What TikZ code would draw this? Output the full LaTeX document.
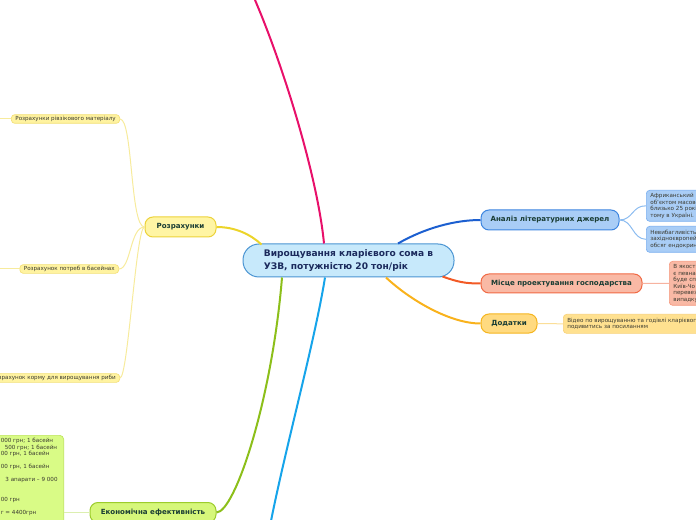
\documentclass[tikz,border=0pt]{standalone}
\usepackage{fontspec}
\setmainfont{DejaVu Sans}
\usetikzlibrary{calc}
\definecolor{cFill}{HTML}{C7E9FB}
\definecolor{cDraw}{HTML}{4A94D2}
\definecolor{cText}{HTML}{1B2A5C}
\definecolor{sText}{HTML}{1A3D34}
\definecolor{lText}{HTML}{3A3A30}
\definecolor{pinkL}{HTML}{E8106A}
\definecolor{skyL}{HTML}{16A4EA}
\definecolor{greenL}{HTML}{8CBF1A}
\definecolor{yelL}{HTML}{ECD42A}
\definecolor{blueL}{HTML}{1C5FD0}
\definecolor{oraL}{HTML}{F25A26}
\definecolor{ambL}{HTML}{F9B21C}
\definecolor{yFill}{HTML}{FFF5A4}
\definecolor{yDraw}{HTML}{ECD23A}
\definecolor{yLeafFill}{HTML}{FFF3A0}
\definecolor{yLeafDraw}{HTML}{F3DF78}
\definecolor{yThin}{HTML}{F7EB9C}
\definecolor{bFill}{HTML}{A9CDF6}
\definecolor{bDraw}{HTML}{3D85E0}
\definecolor{bLeafDraw}{HTML}{7CB0F0}
\definecolor{bThin}{HTML}{8CBCF0}
\definecolor{rFill}{HTML}{F9B9A5}
\definecolor{rDraw}{HTML}{F06A45}
\definecolor{rLeafDraw}{HTML}{F59A80}
\definecolor{rThin}{HTML}{F7B3A0}
\definecolor{aFill}{HTML}{FFDA80}
\definecolor{aDraw}{HTML}{F5B51F}
\definecolor{aLeafFill}{HTML}{FFE190}
\definecolor{aLeafDraw}{HTML}{F8D27A}
\definecolor{aThin}{HTML}{FBDE98}
\definecolor{gFill}{HTML}{D6F77A}
\definecolor{gDraw}{HTML}{9CCC2C}
\definecolor{gLeafFill}{HTML}{D9FB86}
\definecolor{gLeafDraw}{HTML}{BDE35A}
\definecolor{gThin}{HTML}{DCEFB0}
\begin{document}
\begin{tikzpicture}[x=0.75pt,y=-0.75pt,
  centralbox/.style={draw=cDraw, fill=cFill, line width=0.75pt, rounded corners=12pt,
    minimum width=158.25pt, minimum height=24.75pt, align=left, text=cText,
    font=\bfseries\fontsize{6.8}{9.75}\selectfont},
  subbox/.style={line width=0.75pt, rounded corners=6pt, minimum height=15pt, text=sText,
    inner xsep=2pt, inner ysep=1pt, font=\bfseries\fontsize{5.3}{6.5}\selectfont},
  leafbox/.style={line width=0.5pt, rounded corners=2.5pt, text=lText, inner xsep=3pt, inner ysep=1.2pt,
    font=\fontsize{4.2}{4.9}\selectfont, align=left},
  mainline/.style={line width=1.5pt},
  thinline/.style={line width=0.75pt}
]
\useasboundingbox (0,0) rectangle (696,520);
\clip (0,0) rectangle (696,520);

% central
\node[centralbox] (c) at (348.5,260.5) {Вирощування кларієвого сома в\\УЗВ, потужністю 20 тон/рік};

% free ends
\coordinate (pinkEnd) at (255,0);
\coordinate (skyEnd) at (271,521);

% main branch nodes
\node[subbox, fill=yFill, draw=yDraw, minimum width=53.25pt] (roz) at (180.5,227) {Розрахунки};
\node[subbox, fill=bFill, draw=bDraw, minimum width=103.5pt] (an) at (550,220) {Аналіз літературних джерел};
\node[subbox, fill=rFill, draw=rDraw, minimum width=120.75pt, minimum height=14.25pt] (mi) at (561.5,283.5) {Місце проектування господарства};
\node[subbox, fill=aFill, draw=aDraw, minimum width=42pt, minimum height=14.25pt] (dod) at (509,323.5) {Додатки};
\node[subbox, fill=gFill, draw=gDraw, minimum width=94.5pt] (eko) at (153,512.5) {Економічна ефективність};

% main connectors
\draw[mainline, pinkL] (pinkEnd) .. controls (285,70) and (318,180) .. ($(c.north)+(-24.5,0)$);
\draw[mainline, skyL] ($(c.south)+(-23.5,0)$) .. controls (315,340) and (285,450) .. (skyEnd);
\draw[mainline, greenL] ($(c.south)+(-66.5,0)$) .. controls (272,400) and (235,512) .. (eko.east);
\draw[mainline, yelL] ($(c.north west)+(19,1)$) .. controls (250,234) and (235,227) .. (roz.east);
\draw[mainline, blueL] ($(c.north)+(49.5,0)$) .. controls (425,228) and (455,220) .. (an.west);
\draw[mainline, oraL] ($(c.south east)+(-12,-1)$) .. controls (458,282) and (465,283.5) .. (mi.west);
\draw[mainline, ambL] ($(c.south)+(37.5,0)$) .. controls (410,300) and (450,323.5) .. (dod.west);

% Розрахунки leaves
\node[leafbox, fill=yLeafFill, draw=yLeafDraw, anchor=east] (r1) at (120,119) {Розрахунки рівзікового матеріалу};
\node[leafbox, fill=yLeafFill, draw=yLeafDraw, anchor=east] (r2) at (119,269) {Розрахунок потреб в басейнах};
\node[leafbox, fill=yLeafFill, draw=yLeafDraw, anchor=east] (r3) at (120,378) {Розрахунок корму для вирощування риби};
\coordinate (r1L) at (0,119);
\coordinate (r2L) at (0,269);
\draw[thinline, yThin] (roz.west) .. controls (130,227) and (133,119) .. (r1.east);
\draw[thinline, yThin] (roz.west) .. controls (130,227) and (131,269) .. (r2.east);
\draw[thinline, yThin] (roz.west) .. controls (136,227) and (128,378) .. (r3.east);
\draw[thinline, yThin] (r1.west) -- (r1L);
\draw[thinline, yThin] (r2.west) -- (r2L);

% Аналіз leaves
\node[leafbox, fill=bFill, draw=bLeafDraw, anchor=north west, text width=60pt, minimum height=23.25pt] (an1) at (646,190)
  {Африканський к\\об'єктом масово\\близько 25 рокі\\тому в Україні.};
\node[leafbox, fill=bFill, draw=bLeafDraw, anchor=north west, text width=60pt, minimum height=19.5pt] (an2) at (646,226)
  {Невибагливість\\західноєвропейсь\\обсяг ендокрин};
\draw[thinline, bThin] (an.east) .. controls (633,220) and (632,205.5) .. (an1.west);
\draw[thinline, bThin] (an.east) .. controls (633,220) and (632,239) .. (an2.west);

% Місце leaf
\node[leafbox, fill=rFill, draw=rLeafDraw, anchor=north west, text width=40pt, minimum height=33pt] (mc) at (669,261)
  {В якості\\є певна\\буде спр\\Київ-Чо\\перевез\\випадку};
\draw[thinline, rThin] (mi.east) -- (mc.west);

% Додатки leaf
\node[leafbox, fill=aLeafFill, draw=aLeafDraw, anchor=north west, text width=120pt, minimum height=14.25pt] (dc) at (563,314)
  {Відео по вирощуванню та годівлі кларієвого\\подивитись за посиланням};
\draw[thinline, aThin] (dod.west -| dod.east) -- (dc.west);

% Економічна leaf
\node[draw=gLeafDraw, fill=gLeafFill, line width=0.5pt, rounded corners=3pt, anchor=north east,
  minimum width=75pt, minimum height=80pt] (ec) at (64,435) {};
\node[anchor=north west, inner sep=0pt, align=left, text=lText, font=\fontsize{4.2}{4.9}\selectfont] (ect) at (0.5,438)
  {000 грн; 1 басейн\\\hspace{3pt}500 грн; 1 басейн\\00 грн, 1 басейн\\[4.9pt]00 грн, 1 басейн\\[4.9pt]\hspace{3.5pt}3 апарати – 9 000\\[9.8pt]00 грн\\[4.9pt]г = 4400грн};
\coordinate (ecR) at (64,512.5);
\draw[thinline, gThin] (ecR) -- (eko.west);
\end{tikzpicture}
\end{document}
